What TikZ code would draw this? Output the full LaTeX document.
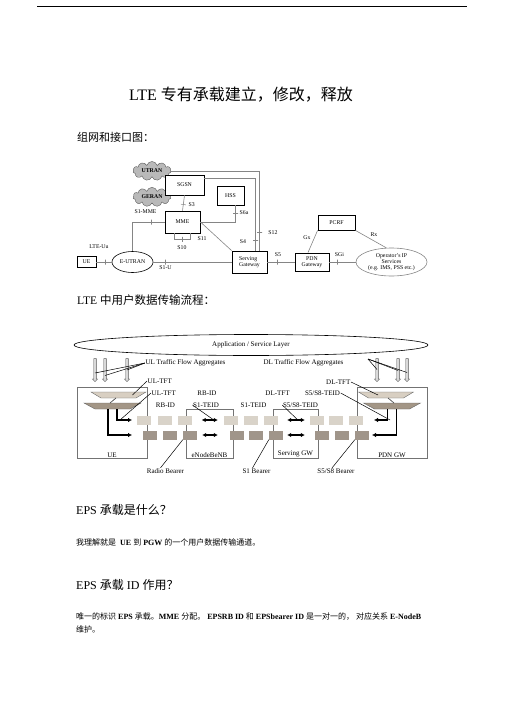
\documentclass[tikz,border=0pt]{standalone}
\usepackage{fontspec}
\setmainfont{Liberation Serif}
\newfontfamily\cjk{Noto Sans CJK SC}
\usetikzlibrary{arrows.meta,shapes.geometric,shapes.symbols,shapes.arrows}

\definecolor{tftlight}{HTML}{D8CFC2}
\definecolor{tftdark}{HTML}{A39686}
\definecolor{sqlight}{HTML}{D9D3C9}
\definecolor{sqdark}{HTML}{A0958A}
\definecolor{linegray}{HTML}{858585}

\newcommand{\netfont}{\fontsize{5.8}{6.2}\selectfont}
\newcommand{\lblfont}{\fontsize{7}{7.5}\selectfont}

\begin{document}
\begin{tikzpicture}[x=1pt, y=-1pt, >=Latex,
    netbox/.style={draw, line width=0.9pt, fill=white, inner sep=1pt, font=\netfont, align=center},
    cloudy/.style={cloud, cloud puffs=11, aspect=2.2, draw=gray!70!black, fill=gray!55, inner sep=0pt, minimum width=38pt, minimum height=19pt, font=\netfont\bfseries},
    link/.style={draw=linegray, line width=0.6pt},
    tickmark/.style={sloped, draw=linegray, line width=0.5pt, minimum width=0pt, minimum height=5pt, inner sep=0pt},
    iflbl/.style={font=\netfont, inner sep=0.5pt},
    gwbox/.style={draw=gray!90!black, line width=0.8pt},
    lbl/.style={font=\lblfont, inner sep=0.5pt},
    flowarrow/.style={single arrow, single arrow head extend=1.4pt, inner sep=1.1pt, minimum height=23pt, rotate=-90, draw=gray!70!black, fill=gray!30, line width=0.4pt},
    tftbody/.style={draw=black!60, line width=0.4pt},
    sq/.style={minimum width=14pt, minimum height=9pt, inner sep=0pt},
    dblarrow/.style={line width=1.4pt, {Latex[length=4pt,width=4.5pt]}-{Latex[length=4pt,width=4.5pt]}},
    bentarrow/.style={line width=1.1pt, -{Latex[length=4pt,width=4.5pt]}},
    pointer/.style={draw=black, line width=0.5pt},
    bodytext/.style={anchor=west, inner sep=0pt}]
\useasboundingbox (0,0) rectangle (505,714);

% page head
\coordinate (rulel) at (37,6);
\coordinate (ruler) at (467,6);
\draw[line width=0.8pt] (rulel) -- (ruler);
\node[font=\fontsize{16}{18}\selectfont] (title) at (241,95) {LTE {\cjk 专有承载建立，修改，释放}};
\node[bodytext, font=\fontsize{11}{13}\selectfont\cjk] (sec1) at (77,137) {组网和接口图：};

% network and interfaces
\node[cloudy] (utran) at (152,171) {UTRAN};
\node[cloudy] (geran) at (152,197) {GERAN};
\node[netbox, minimum width=39pt, minimum height=20pt] (sgsn) at (184.5,185) {SGSN};
\node[netbox, minimum width=27pt, minimum height=19pt] (hss) at (230.5,195.5) {HSS};
\node[netbox, minimum width=35pt, minimum height=22pt] (mme) at (182.5,222) {MME};
\node[netbox, minimum width=35pt, minimum height=22pt, align=left] (sgw) at (249.5,262) {Serving\\Gateway};
\node[netbox, minimum width=19pt, minimum height=11pt] (ue) at (86.5,262) {UE};
\node[ellipse, draw, line width=0.6pt, minimum width=41pt, minimum height=21pt, inner sep=0pt, font=\netfont] (eutran) at (132.5,262) {E-UTRAN};
\node[netbox, minimum width=34pt, minimum height=18pt] (pdngw) at (312,262) {PDN\\Gateway};
\node[netbox, minimum width=37pt, minimum height=15pt] (pcrf) at (336.5,222.5) {PCRF};
\node[ellipse, draw=linegray, line width=0.6pt, minimum width=71pt, minimum height=28pt, inner sep=0pt, font=\netfont, align=center] (ops) at (391.5,262) {Operator's IP\\Services\\(e.g. IMS, PSS etc.)};

\draw[link] (utran.east) -| ([xshift=10pt]sgw.north) node[tickmark, pos=0.885] {};
\draw[link] ([yshift=7pt]sgsn.east) -| ([xshift=6pt]sgw.north) node[tickmark, pos=0.93] {};
\draw[link] (sgsn.south) -- node[tickmark, pos=0.6] {} (mme.north);
\draw[link] ([xshift=5pt]hss.south) |- node[tickmark, pos=0.24] {} (mme.east);
\draw[link] (eutran.north) |- node[tickmark, pos=0.8] {} (mme.west);
\draw[link] ([xshift=-8pt]mme.south) -- ++(0,6) -- node[tickmark] {} ++(16,0) -- ([xshift=8pt]mme.south);
\draw[link] (mme.east) -- (sgw.north west);
\draw[link] (ue.east) -- node[tickmark, pos=0.55] {} (eutran.west);
\draw[link] (eutran.east) -- node[tickmark, pos=0.15] {} (sgw.west);
\draw[link] (sgw.east) -- node[tickmark, pos=0.36] {} (pdngw.west);
\draw[link] (pdngw.east) -- node[tickmark, pos=0.3] {} (ops.west);
\draw[link] (pcrf.south west) -- ([xshift=-4pt]pdngw.north);
\draw[link] (pcrf.south east) -- (ops.110);

\node[iflbl, anchor=west] (s3) at (188,205) {S3};
\node[iflbl, anchor=west] (s6a) at (239,213) {S6a};
\node[iflbl] (s1mme) at (145.5,212) {S1-MME};
\node[iflbl] (s10) at (182,248) {S10};
\node[iflbl] (s11) at (202,239) {S11};
\node[iflbl] (s4) at (243,242) {S4};
\node[iflbl] (s12) at (273,233) {S12};
\node[iflbl] (lteuu) at (99,247) {LTE-Uu};
\node[iflbl] (s1u) at (165.5,268) {S1-U};
\node[iflbl] (s5) at (278,255) {S5};
\node[iflbl] (sgi) at (339.5,255) {SGi};
\node[iflbl] (gx) at (307,238) {Gx};
\node[iflbl] (rx) at (374,235) {Rx};

\node[bodytext, font=\fontsize{11.5}{13}\selectfont] (sec2) at (77,300) {LTE {\cjk 中用户数据传输流程：}};

% user plane bearers
\node[ellipse, draw, line width=0.6pt, minimum width=354pt, minimum height=21pt, font=\lblfont] (app) at (251,345) {Application / Service Layer};

\foreach \x/\n in {95/uf1, 105/uf2, 127/uf3, 377/df1, 398/df2, 407/df3}
  \node[flowarrow] (\n) at (\x,369.5) {};

\node[lbl] (ullbl) at (185.5,363) {UL Traffic Flow Aggregates};
\node[lbl] (dllbl) at (303.5,363) {DL Traffic Flow Aggregates};
\coordinate (dlfan) at (368,359);
\draw[pointer] (ullbl.west) -- ([yshift=-3.5pt]uf1.center);
\draw[pointer] (ullbl.west) -- ([yshift=-6pt]uf2.center);
\draw[pointer] (ullbl.west) -- ([yshift=-0.5pt]uf3.center);
\draw[pointer] (dlfan) -- ([yshift=0pt]df1.center);
\draw[pointer] (dlfan) -- ([yshift=-1pt]df2.center);
\draw[pointer] (dlfan) -- ([yshift=-3pt]df3.center);

\node[gwbox, minimum width=70pt, minimum height=71pt] (uebox) at (112,422.5) {};
\node[gwbox, minimum width=47pt, minimum height=49pt] (enbbox) at (209.5,433.5) {};
\node[gwbox, minimum width=45pt, minimum height=49pt] (sgwbox) at (295.5,433.5) {};
\node[gwbox, minimum width=70pt, minimum height=71pt] (pdnbox) at (392,422.5) {};
\node[lbl, anchor=south] (uename) at ([yshift=0.5pt]uebox.south) {UE};
\node[lbl, anchor=south] (enbname) at ([yshift=0.5pt]enbbox.south) {eNodeBeNB};
\node[lbl, anchor=south] (sgwname) at ([yshift=0.5pt]sgwbox.south) {Serving GW};
\node[lbl, anchor=south] (pdnname) at ([yshift=0.5pt]pdnbox.south) {PDN GW};

% TFT filters: upper light, lower dark
\coordinate (uetft1) at (118.5,395);
\coordinate (uetft2) at (112.5,406);
\coordinate (pdntft1) at (386,395);
\coordinate (pdntft2) at (392,406);
\filldraw[tftbody, fill=tftlight] (uetft1) ++(-27.5,-3) -- ++(55,0) -- ++(-10,6) -- ++(-35,0) -- cycle;
\filldraw[tftbody, fill=tftdark] (uetft2) ++(-28.5,-3) -- ++(57,0) -- ++(-11,6) -- ++(-35,0) -- cycle;
\filldraw[tftbody, fill=tftlight] (pdntft1) ++(-27.5,-3) -- ++(55,0) -- ++(-10,6) -- ++(-35,0) -- cycle;
\filldraw[tftbody, fill=tftdark] (pdntft2) ++(-28.5,-3) -- ++(57,0) -- ++(-11,6) -- ++(-35,0) -- cycle;
\draw[line width=0.7pt, black!70] ([xshift=-2.5pt,yshift=-3pt]uetft1) -- ([xshift=-2.5pt,yshift=3pt]uetft2);
\draw[line width=0.7pt, black!70] ([xshift=2pt,yshift=-3pt]pdntft1) -- ([xshift=2pt,yshift=3pt]pdntft2);

\foreach \x [count=\i] in {144,164.5,184.5,231,250.5,270.5,317,336,356}
  \node[sq, fill=sqlight] (ul\i) at (\x,420) {};
\foreach \x [count=\i] in {150,170,190,237,256,276,322,342,362}
  \node[sq, fill=sqdark] (dl\i) at (\x,435) {};

\coordinate (uein1) at (132,420);
\coordinate (uein2) at (132,435);
\coordinate (pdnin1) at (374,420);
\coordinate (pdnin2) at (372,435);
\draw[bentarrow] ([xshift=4.5pt,yshift=-3pt]uetft2) |- (uein1);
\draw[bentarrow] ([xshift=-4.5pt,yshift=-3pt]uetft2) |- (uein2);
\draw[bentarrow] ([xshift=-4.5pt,yshift=-3pt]pdntft2) |- (pdnin1);
\draw[bentarrow] ([xshift=4.5pt,yshift=-3pt]pdntft2) |- (pdnin2);

\draw[dblarrow] ([xshift=10pt]ul3.east) -- ([xshift=-6pt]ul4.west);
\draw[dblarrow] ([xshift=5pt]dl3.east) -- ([xshift=-12pt]dl4.west);
\draw[dblarrow] ([xshift=9.5pt]ul6.east) -- ([xshift=-5pt]ul7.west);
\draw[dblarrow] ([xshift=4pt]dl6.east) -- ([xshift=-10pt]dl7.west);

\node[lbl, anchor=west] (ultft1) at (147,381) {UL-TFT};
\node[lbl, anchor=west] (ultft2) at (151,393) {UL-TFT};
\node[lbl] (rbid1) at (207,393) {RB-ID};
\node[lbl] (rbid2) at (165.5,405) {RB-ID};
\node[lbl] (s1teid1) at (206,405) {S1-TEID};
\node[lbl] (s1teid2) at (253.5,405) {S1-TEID};
\node[lbl] (dltft2) at (277.5,393) {DL-TFT};
\node[lbl] (s5teid1) at (322.5,393) {S5/S8-TEID};
\node[lbl] (s5teid2) at (300.5,405) {S5/S8-TEID};
\node[lbl, anchor=east] (dltft1) at (351,382) {DL-TFT};

\draw[pointer] (ultft1.west) -- ([xshift=14pt]uetft1);
\draw[pointer] (ultft2.west) -- ([xshift=-12pt]uein1);
\draw[pointer] (s1teid1.west) -- ([xshift=-10pt]ul4.west);
\draw[pointer] (s5teid2.west) -- ([xshift=-12pt]ul7.west);
\draw[pointer] (dltft1.east) -- ([xshift=-8pt]pdntft1);
\draw[pointer] (s5teid1.east) -- ([xshift=16pt]pdnin1);

\node[lbl] (rbear) at (165.5,471) {Radio Bearer};
\node[lbl] (s1bear) at (256.5,471) {S1 Bearer};
\node[lbl] (s5bear) at (336,471) {S5/S8 Bearer};
\draw[pointer] ([xshift=-5pt]rbear.north) -- (dl3.south west);
\draw[pointer] ([xshift=-4pt]s1bear.north) -- (dl6.south west);
\draw[pointer] ([xshift=-4pt]s5bear.north) -- (dl9.south west);

% questions
\node[bodytext, font=\fontsize{12}{14}\selectfont] (q1) at (76,510) {EPS {\cjk 承载是什么？}};
\node[bodytext, font=\fontsize{8}{10}\selectfont] (a1) at (76,542) {{\cjk 我理解就是}\enspace\textbf{UE} {\cjk 到} \textbf{PGW} {\cjk 的一个用户数据传输通道。}};
\node[bodytext, font=\fontsize{12}{14}\selectfont] (q2) at (76,585) {EPS {\cjk 承载} ID {\cjk 作用？}};
\node[bodytext, font=\fontsize{8}{10}\selectfont] (a2) at (76,617) {{\cjk 唯一的标识} \textbf{EPS} {\cjk 承载。}\textbf{MME} {\cjk 分配。} \textbf{EPSRB ID} {\cjk 和} \textbf{EPSbearer ID} {\cjk 是一对一的，} {\cjk 对应关系} \textbf{E-NodeB}};
\node[bodytext, font=\fontsize{8}{10}\selectfont] (a3) at (76,629) {{\cjk 维护。}};
\end{tikzpicture}
\end{document}
